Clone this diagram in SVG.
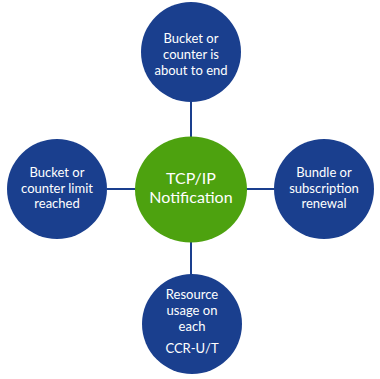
<svg xmlns="http://www.w3.org/2000/svg" width="380" height="379" viewBox="0 0 380 379">
  <style>
    .node { fill: #1a3f8e; }
    .hub { fill: #4da20f; }
    .link { stroke: #1a3f8e; stroke-width: 2; fill: none; }
    .label { fill: #ffffff; font-family: Lato, "Open Sans", "Liberation Sans", sans-serif; font-size: 13px; text-anchor: middle; }
    .hub-label { font-size: 16px; }
  </style>
  <rect width="380" height="379" fill="#ffffff"/>

  <!-- spokes from the hub to each outer node -->
  <g id="connectors">
    <line class="link" x1="191" y1="101" x2="191" y2="138"/>
    <line class="link" x1="107" y1="189" x2="135" y2="189"/>
    <line class="link" x1="246" y1="189" x2="274" y2="189"/>
    <line class="link" x1="191" y1="241" x2="191" y2="275"/>
  </g>

  <g id="hub">
    <ellipse class="hub" cx="191" cy="189.5" rx="56" ry="53"/>
    <text class="label hub-label" x="191" y="184">TCP/IP</text>
    <text class="label hub-label" x="191" y="203">Notification</text>
  </g>

  <g id="top-node">
    <circle class="node" cx="191" cy="52" r="50"/>
    <text class="label" x="191" y="43">Bucket or</text>
    <text class="label" x="191" y="59">counter is</text>
    <text class="label" x="191" y="75">about to end</text>
  </g>

  <g id="left-node">
    <circle class="node" cx="57" cy="189" r="50"/>
    <text class="label" x="57" y="177">Bucket or</text>
    <text class="label" x="57" y="193">counter limit</text>
    <text class="label" x="57" y="208">reached</text>
  </g>

  <g id="right-node">
    <circle class="node" cx="324" cy="189" r="50"/>
    <text class="label" x="324" y="177">Bundle or</text>
    <text class="label" x="324" y="193">subscription</text>
    <text class="label" x="324" y="208">renewal</text>
  </g>

  <g id="bottom-node">
    <circle class="node" cx="192" cy="324" r="50"/>
    <text class="label" x="192" y="299">Resource</text>
    <text class="label" x="192" y="315">usage on</text>
    <text class="label" x="192" y="331">each</text>
    <text class="label" x="192" y="353">CCR-U/T</text>
  </g>
</svg>
